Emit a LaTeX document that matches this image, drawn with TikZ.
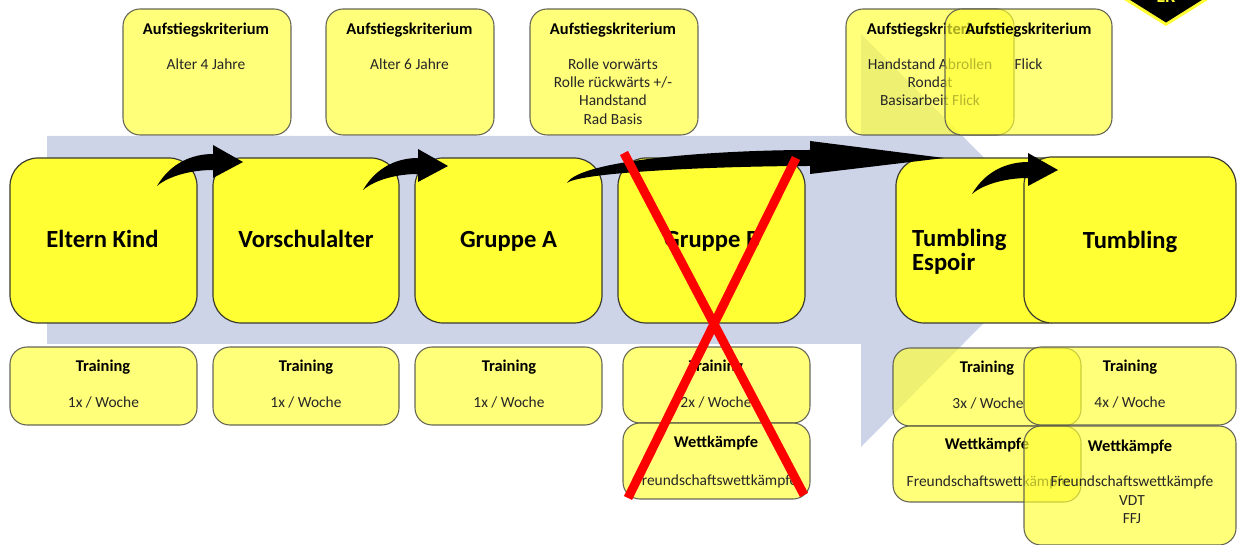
\documentclass[tikz,border=0pt]{standalone}
\usepackage{fontspec}
\setmainfont{Carlito}
\usepackage{tikz}
\usepackage{xcolor}
\usetikzlibrary{positioning,calc}

\definecolor{pfeilblau}{HTML}{CDD4E8}
\definecolor{gelb}{HTML}{FFFF33}
\definecolor{rahmen}{HTML}{3A3A30}

\tikzset{
    gruppe/.style={draw=rahmen, line width=1.2pt, fill=gelb, rounded corners=28bp, outer sep=0pt, inner sep=0pt},
    grosstext/.style={font=\fontsize{24.7}{25}\selectfont\bfseries, inner sep=0pt, text height=17bp, text depth=5bp, yshift=-3bp},
    infobox/.style={draw=rahmen!85, line width=1.1pt, fill=gelb, fill opacity=0.66, text opacity=1, draw opacity=0.9,
        rounded corners=17bp, outer sep=0pt, inner sep=0pt},
    kopf/.style={font=\fontsize{16.5}{18}\selectfont\bfseries, inner sep=0pt, text=black, text height=12bp, text depth=3bp, yshift=-1bp},
    inhalt/.style={font=\fontsize{15.5}{18.4}\selectfont, align=center, inner sep=0pt, text=black!85},
    zeile/.style={inhalt, anchor=base},
    kreuz/.style={draw=red, line width=9bp}
}

% tail, tip, head length
\newcommand{\krummpfeil}[3]{
    \fill[black] (#1) .. controls ($(#1)+(14,-24)$) and ($(#2)+(-#3*1.65,-8)$) .. ($(#2)+(-#3,-8)$)
        -- ($(#2)+(-#3,-17)$) -- (#2) -- ($(#2)+(-#3,16)$) -- ($(#2)+(-#3,8)$)
        .. controls ($(#2)+(-#3*1.65,8)$) and ($(#1)+(13,-11)$) .. (#1) -- cycle;
}

\begin{document}
\begin{tikzpicture}[x=1bp,y=-1bp]
\useasboundingbox (0,0) rectangle (1237,545);
\clip (0,0) rectangle (1237,545);

% background arrow
\fill[pfeilblau] (47,136) -- (861,136) -- (861,34) -- (1066,240) -- (861,447) -- (861,344) -- (47,344) -- cycle;

% logo
\fill[gelb] (1121,-2) -- (1166,26) -- (1211,-2) -- cycle;
\fill[black] (1127,-2) -- (1166,22.5) -- (1205,-2) -- cycle;
\node[font=\fontsize{18}{20}\selectfont\bfseries, text=gelb, inner sep=0pt] (logo) at (1166,-3) {EK};

% criteria
\node[infobox, minimum width=168bp, minimum height=126bp] (krit1) at (207,72) {};
\node[infobox, minimum width=168bp, minimum height=126bp] (krit2) at (410,72) {};
\node[infobox, minimum width=168bp, minimum height=126bp] (krit3) at (614,72) {};
\node[infobox, minimum width=168bp, minimum height=126bp] (krit4) at (930,72) {};
\node[kopf] (kritkopf1) at (206,29) {Aufstiegskriterium};
\node[kopf] (kritkopf2) at (409.5,29) {Aufstiegskriterium};
\node[kopf] (kritkopf3) at (613,29) {Aufstiegskriterium};
\node[kopf] (kritkopf4) at (930,29) {Aufstiegskriterium};
\node[inhalt, below=20.5bp of kritkopf1] (kritinh1) {Alter 4 Jahre};
\node[inhalt, below=20.5bp of kritkopf2] (kritinh2) {Alter 6 Jahre};
\node[inhalt, below=20.5bp of kritkopf3] (kritinh3) {Rolle vorwärts\\Rolle rückwärts +/-\\Handstand\\Rad Basis};
\node[inhalt, below=20.5bp of kritkopf4] (kritinh4) {Handstand Abrollen\\Rondat\\Basisarbeit Flick};
\node[infobox, minimum width=167bp, minimum height=126bp] (krit5) at (1028.5,72) {};
\node[kopf] (kritkopf5) at (1028.5,29) {Aufstiegskriterium};
\node[inhalt, below=20.5bp of kritkopf5] (kritinh5) {Flick};

% groups
\node[gruppe, minimum width=187bp, minimum height=165bp] (eltern) at (103.5,240.5) {};
\node[gruppe, minimum width=186bp, minimum height=165bp] (vorschule) at (306,240.5) {};
\node[gruppe, minimum width=187bp, minimum height=165bp] (gruppea) at (508.5,240.5) {};
\node[gruppe, minimum width=187bp, minimum height=165bp] (gruppeb) at (711.5,240.5) {};
\node[gruppe, minimum width=179bp, minimum height=165bp] (espoir) at (985.5,240.5) {};
\node[gruppe, minimum width=212bp, minimum height=166bp] (tumbling) at (1130,240) {};
\node[grosstext] (elterntxt) at (102.5,239) {Eltern Kind};
\node[grosstext] (vorschultxt) at (306,239) {Vorschulalter};
\node[grosstext] (atxt) at (508.5,239) {Gruppe A};
\node[grosstext] (btxt) at (712,239) {Gruppe B};
\node[font=\fontsize{24.7}{25}\selectfont\bfseries, inner sep=0pt, align=left, anchor=base west] (espoirtxt) at (912,271) {Tumbling\\Espoir};
\node[grosstext] (tumblingtxt) at (1130,240) {Tumbling};

% training
\node[infobox, minimum width=187bp, minimum height=78bp] (train1) at (103.5,386) {};
\node[infobox, minimum width=186bp, minimum height=78bp] (train2) at (306,386) {};
\node[infobox, minimum width=187bp, minimum height=78bp] (train3) at (508.5,386) {};
\node[infobox, minimum width=187bp, minimum height=76bp] (train4) at (716.5,385) {};
\node[infobox, minimum width=187bp, minimum height=76bp] (wett4) at (716.5,461) {};
\node[kopf] (trainkopf1) at (103,366) {Training};
\node[kopf] (trainkopf2) at (306,366) {Training};
\node[kopf] (trainkopf3) at (509,366) {Training};
\node[kopf] (trainkopf4) at (716,366) {Training};
\node[kopf] (wettkopf4) at (716,442) {Wettkämpfe};
\node[zeile] (traininh1) at (103.5,407) {1x / Woche};
\node[zeile] (traininh2) at (306,407) {1x / Woche};
\node[zeile] (traininh3) at (509,407) {1x / Woche};
\node[zeile] (traininh4) at (716,407) {2x / Woche};
\node[zeile] (wettinh4) at (716,485) {Freundschaftswettkämpfe};

\node[infobox, minimum width=188bp, minimum height=78bp] (train5) at (987,387) {};
\node[infobox, minimum width=188bp, minimum height=76bp] (wett5) at (987,464) {};
\node[kopf] (trainkopf5) at (987,367) {Training};
\node[zeile] (traininh5) at (988,408) {3x / Woche};
\node[kopf] (wettkopf5) at (987,444) {Wettkämpfe};
\node[zeile] (wettinh5) at (988,486) {Freundschaftswettkämpfe};
\node[infobox, minimum width=212bp, minimum height=78bp] (train6) at (1130,386) {};
\node[infobox, minimum width=212bp, minimum height=119bp] (wett6) at (1130,485.5) {};
\node[kopf] (trainkopf6) at (1130,366) {Training};
\node[zeile] (traininh6) at (1130,407) {4x / Woche};
\node[kopf] (wettkopf6) at (1130,446) {Wettkämpfe};
\node[inhalt, anchor=north] (wettinh6) at (1132,476) {Freundschaftswettkämpfe\\VDT\\FFJ};

% arrows
\coordinate (schwanz1) at ($(eltern.north east)+(-40,28)$);
\coordinate (spitze1) at ($(vorschule.north west)+(30,4)$);
\coordinate (schwanz2) at ($(vorschule.north east)+(-36,32)$);
\coordinate (spitze2) at ($(gruppea.north west)+(33,8)$);
\coordinate (schwanz3) at ($(gruppea.north east)+(-35,25)$);
\coordinate (spitze3) at ($(espoir.north west)+(48,0)$);
\coordinate (schwanz4) at ($(espoir.north east)+(-103,36)$);
\coordinate (spitze4) at ($(tumbling.north west)+(34,13)$);
\krummpfeil{schwanz1}{spitze1}{30}
\krummpfeil{schwanz2}{spitze2}{30}
\krummpfeil{schwanz3}{spitze3}{134}
\krummpfeil{schwanz4}{spitze4}{30}

% cross
\draw[kreuz] (624,153) -- (804,495);
\draw[kreuz] (796,158) -- (628,498);
\end{tikzpicture}
\end{document}
